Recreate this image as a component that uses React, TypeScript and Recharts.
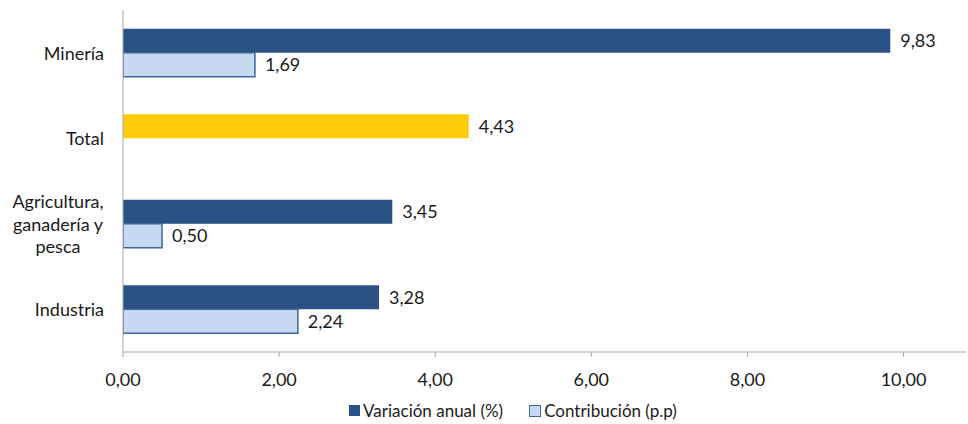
import { Bar, BarChart, Cell, LabelList, Legend, XAxis, YAxis } from 'recharts';

const categories = ['Minería', 'Total', 'Agricultura,\nganadería y\npesca', 'Industria'];
const variacion = [9.83, 4.43, 3.45, 3.28];
const contribucion = [1.69, null, 0.5, 2.24];
const xTicks = [0, 2, 4, 6, 8, 10];

const DARK = '#2B5285';
const LIGHT = '#C6D9F0';
const LIGHT_STROKE = '#3C679C';
const YELLOW = '#FFCC0A';
const AXIS = '#A6A6A6';
const FONT = 'Lato, "Open Sans", sans-serif';

const data = categories.map((name, i) => ({
  name,
  variacion: variacion[i],
  contribucion: contribucion[i],
}));

const fmt = (v: any) => (v == null ? '' : Number(v).toFixed(2).replace('.', ','));

const CategoryTick = ({ x, y, payload }: any) => {
  const lines: string[] = String(payload.value).split('\n');
  const multi = lines.length > 1;
  const lh = 22.5;
  const startY = y - ((lines.length - 1) * lh) / 2;
  const tx = multi ? x - 57 : x - 11;
  return (
    <text
      x={tx}
      y={startY}
      textAnchor={multi ? 'middle' : 'end'}
      fill="#1a1a1a"
      fontSize={18}
      fontFamily={FONT}
      dominantBaseline="central"
    >
      {lines.map((l, i) => (
        <tspan key={i} x={tx} y={startY + i * lh} dominantBaseline="central">
          {l}
        </tspan>
      ))}
    </text>
  );
};

const LegendContent = () => (
  <div
    style={{
      display: 'flex',
      justifyContent: 'center',
      gap: 26,
      fontFamily: FONT,
      fontSize: 17,
      color: '#1a1a1a',
      paddingLeft: 60,
      paddingTop: 6,
    }}
  >
    <span style={{ display: 'flex', alignItems: 'center', gap: 3 }}>
      <span style={{ width: 11, height: 11, background: DARK, display: 'inline-block' }} />
      Variación anual (%)
    </span>
    <span style={{ display: 'flex', alignItems: 'center', gap: 3 }}>
      <span
        style={{
          width: 10,
          height: 10,
          background: LIGHT,
          border: `1px solid ${LIGHT_STROKE}`,
          display: 'inline-block',
        }}
      />
      Contribución (p.p)
    </span>
  </div>
);

export default function App() {
  return (
    <div style={{ position: 'absolute', left: 0, top: 0, width: 968, height: 424, background: '#fff' }}>
      <BarChart
        width={968}
        height={424}
        data={data}
        layout="vertical"
        margin={{ top: 10, right: 2, left: 0, bottom: 0 }}
        barGap={0}
        barCategoryGap="22%"
      >
        <XAxis
          type="number"
          domain={[0, 10.8]}
          ticks={xTicks}
          tickFormatter={fmt}
          stroke={AXIS}
          tickSize={5}
          tickMargin={16}
          height={42}
          tick={{ fill: '#1a1a1a', fontSize: 18, fontFamily: FONT }}
          allowDataOverflow
        />
        <YAxis
          type="category"
          dataKey="name"
          width={123}
          stroke={AXIS}
          tickLine={false}
          tick={<CategoryTick />}
          interval={0}
        />
        <Legend verticalAlign="bottom" height={30} content={<LegendContent />} />
        <Bar dataKey="variacion" name="Variación anual (%)" fill={DARK} isAnimationActive={false}>
          {data.map((d, i) => (
            <Cell key={i} fill={d.name === 'Total' ? YELLOW : DARK} />
          ))}
          <LabelList
            dataKey="variacion"
            position="right"
            offset={10}
            formatter={fmt}
            style={{ fill: '#1a1a1a', fontSize: 18, fontFamily: FONT }}
          />
        </Bar>
        <Bar
          dataKey="contribucion"
          name="Contribución (p.p)"
          fill={LIGHT}
          stroke={LIGHT_STROKE}
          strokeWidth={1.5}
          isAnimationActive={false}
        >
          <LabelList
            dataKey="contribucion"
            position="right"
            offset={10}
            formatter={fmt}
            style={{ fill: '#1a1a1a', fontSize: 18, fontFamily: FONT }}
          />
        </Bar>
      </BarChart>
    </div>
  );
}
